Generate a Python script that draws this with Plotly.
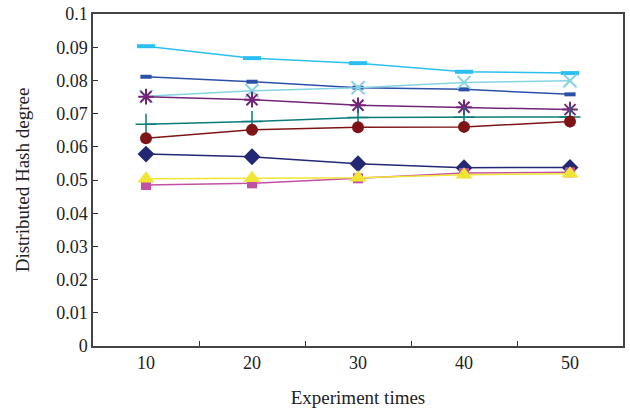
import plotly.graph_objects as go

categories = ["10", "20", "30", "40", "50"]

s1 = [0.0903, 0.0867, 0.0852, 0.0826, 0.0822]
s2 = [0.0811, 0.0796, 0.0778, 0.0773, 0.0758]
s3 = [0.0752, 0.0769, 0.0778, 0.0794, 0.0799]
s4 = [0.0751, 0.0742, 0.0725, 0.0719, 0.0712]
s5 = [0.0668, 0.0676, 0.0688, 0.0689, 0.0690]
s6 = [0.0626, 0.0651, 0.0659, 0.0660, 0.0676]
s7 = [0.0578, 0.0570, 0.0549, 0.0537, 0.0538]
s9 = [0.0485, 0.0490, 0.0505, 0.0521, 0.0523]
s8 = [0.0504, 0.0505, 0.0507, 0.0516, 0.0519]

y_ticks = [0, 0.01, 0.02, 0.03, 0.04, 0.05, 0.06, 0.07, 0.08, 0.09, 0.1]
y_tick_text = ["0", "0.01", "0.02", "0.03", "0.04", "0.05", "0.06", "0.07", "0.08", "0.09", "0.1"]

series = [
    (s1, "#2bbff0", "line-ew", 13, 4),
    (s2, "#2c4fa8", "line-ew", 8, 4),
    (s3, "#85d3e3", "x-thin", 13, 2),
    (s4, "#742478", "asterisk", 13, 2),
    (s5, "#0a7c7a", "cross-thin", 15, 1.5),
    (s6, "#7f1416", "circle", 12, 0),
    (s7, "#232875", "diamond", 13, 0),
    (s9, "#c351a3", "square", 10, 0),
    (s8, "#f0e535", "triangle-up", 15, 0),
]

fig = go.Figure()
for vals, color, sym, size, lw in series:
    marker = dict(symbol=sym, size=size, color=color)
    if lw:
        marker["line"] = dict(color=color, width=lw)
    else:
        marker["line"] = dict(width=0)
    fig.add_trace(go.Scatter(
        x=categories, y=vals, mode="lines+markers",
        line=dict(color=color, width=1.5),
        marker=marker, showlegend=False,
    ))

font_family = "Liberation Serif, DejaVu Serif, serif"
fig.update_layout(
    width=630, height=412,
    margin=dict(l=93, r=7, t=14, b=66),
    paper_bgcolor="white", plot_bgcolor="white",
    font=dict(family=font_family, size=18, color="#222"),
)
fig.update_xaxes(
    type="category", range=[-0.5, 4.5], automargin=False,
    tickson="boundaries", ticks="inside", ticklen=5, tickcolor="#333",
    showline=True, linecolor="#444", linewidth=1.5, mirror=True,
    showgrid=False, zeroline=False,
    tickfont=dict(size=18),
    title=dict(text="Experiment times", font=dict(size=19), standoff=18),
)
fig.update_yaxes(
    range=[0, 0.1], tickvals=y_ticks, ticktext=y_tick_text, automargin=False,
    ticks="inside", ticklen=5, tickcolor="#333",
    showline=True, linecolor="#444", linewidth=1.5, mirror=True,
    showgrid=False, zeroline=False,
    tickfont=dict(size=18),
    title=dict(text="Distributed Hash degree", font=dict(size=19), standoff=22),
)

fig.write_html(
    "out.html",
    config={"displayModeBar": False},
    post_script="document.body.style.margin='0';document.body.style.overflow='hidden';",
)
